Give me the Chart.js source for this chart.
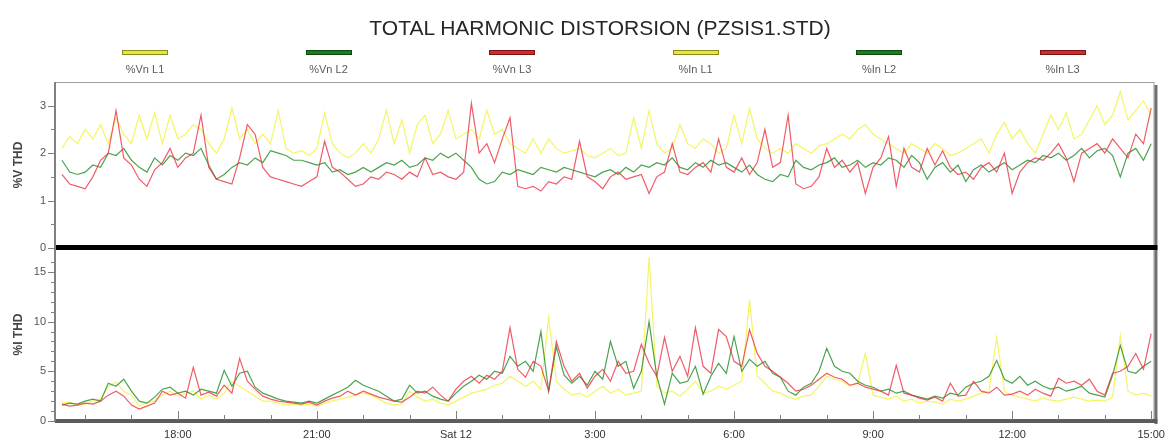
<!DOCTYPE html>
<html><head><meta charset="utf-8">
<script src="https://cdn.jsdelivr.net/npm/chart.js@4.4.1/dist/chart.umd.min.js"></script>
<style>
html,body{margin:0;padding:0;background:#fff;}
#wrap{position:relative;width:1172px;height:444px;overflow:hidden;font-family:"Liberation Sans",Arial,sans-serif;}
#title{position:absolute;left:0;width:1200px;top:16px;text-align:center;font-size:21px;color:#262626;}
.lg{position:absolute;top:50px;width:120px;margin-left:-60px;text-align:center;font-size:11px;color:#5a5a5a;}
.lg i{display:block;margin:0 auto 8px;width:44px;height:3px;border:1px solid;}
canvas{position:absolute;left:0;top:0;}
</style></head>
<body><div id="wrap"><canvas id="c" width="1172" height="444"></canvas><div id="title">TOTAL HARMONIC DISTORSION (PZSIS1.STD)</div></div>
<script>
// ---- data ----
const seriesNames = ['%Vn L1','%Vn L2','%Vn L3','%In L1','%In L2','%In L3'];
const startHour = -8.5;      // 15:30 on the previous day (hours relative to Sat 12 00:00)
const stepHours = 1/6;       // 10-minute samples
const xTickHours = [-6,-3,0,3,6,9,12,15];
const xTickLabels = ['18:00','21:00','Sat 12','3:00','6:00','9:00','12:00','15:00'];

const vnL1 = [2.1,2.35,2.2,
 2.5,2.3,2.6,2.2,2.75,2.4, 2.2,2.8,2.3,2.85,2.2,2.8, 2.3,2.4,2.6,2.5,2.2,2.0, 2.3,2.95,2.3,2.5,2.2,2.4,
 2.2,2.9,2.1,2.0,2.05,1.95, 2.1,2.85,2.2,2.0,1.9,2.0, 2.2,2.0,2.3,2.9,2.2,2.7, 2.0,2.6,2.8,2.2,2.4,2.9,
 2.3,2.4,2.5,2.3,2.9,2.4, 2.5,2.2,2.1,2.0,2.3,2.0, 2.3,2.1,2.0,2.05,2.1,1.95, 1.9,2.0,2.1,1.95,2.0,2.75,
 2.1,2.9,2.2,2.0,2.1,2.6, 2.2,2.1,2.3,2.2,2.0,2.1, 2.8,2.2,2.95,2.3,2.1,2.0, 2.1,2.0,2.2,2.1,2.0,2.15,
 2.2,2.3,2.4,2.3,2.5,2.6, 2.4,2.3,2.2,2.1,2.0,2.2, 2.1,2.0,2.2,2.1,1.95,2.0, 2.1,2.2,2.3,2.0,2.4,2.65,
 2.3,2.5,2.2,2.0,2.4,2.8, 2.5,2.85,2.3,2.4,2.7,3.0, 2.6,2.8,3.3,2.7,2.9,3.1, 2.8];
const vnL2 = [1.85,1.6,1.55,
 1.6,1.75,1.7,2.0,1.95,2.1, 1.85,1.7,1.6,1.9,1.75,1.95, 1.85,2.0,1.95,2.1,1.75,1.45, 1.55,1.7,1.8,1.75,1.9,1.8,
 2.05,2.0,1.95,1.85,1.85,1.8, 1.75,1.8,1.6,1.65,1.55,1.6, 1.7,1.6,1.7,1.8,1.75,1.85, 1.7,1.75,1.9,1.85,2.0,1.9,
 2.0,1.85,1.7,1.45,1.35,1.4, 1.6,1.55,1.65,1.6,1.55,1.7, 1.65,1.6,1.7,1.65,1.6,1.55, 1.5,1.6,1.65,1.55,1.7,1.6,
 1.75,1.7,1.8,1.75,1.9,1.7, 1.65,1.8,1.7,1.85,1.75,1.8, 1.7,1.6,1.75,1.55,1.45,1.4, 1.55,1.5,1.85,1.7,1.65,1.75,
 1.8,1.9,1.7,1.75,1.85,1.7, 1.8,1.75,1.9,1.85,1.7,1.95, 1.8,1.45,1.7,1.8,1.6,1.75, 1.4,1.65,1.75,1.6,1.7,1.8,
 1.65,1.75,1.85,1.8,1.95,1.9, 2.0,1.85,1.95,2.1,1.9,2.05, 2.1,1.95,1.5,2.0,2.1,1.85, 2.2];
const vnL3 = [1.55,1.35,1.3,
 1.25,1.5,1.85,2.0,2.9,1.9, 1.75,1.45,1.3,1.65,1.8,2.1, 1.7,1.9,2.0,2.8,1.7,1.45, 1.4,1.35,1.9,2.6,2.4,1.7,
 1.5,1.45,1.4,1.35,1.3,1.4, 1.5,2.25,1.7,1.6,1.45,1.3, 1.35,1.5,1.45,1.6,1.55,1.45, 1.6,1.5,1.9,1.55,1.6,1.5,
 1.45,1.6,3.05,2.0,2.2,1.8, 2.3,2.75,1.3,1.25,1.3,1.2, 1.4,1.35,1.5,1.45,2.25,1.5, 1.4,1.25,1.5,1.6,1.45,1.5,
 1.55,1.15,1.5,1.6,2.2,1.6, 1.55,1.7,1.8,1.6,2.3,1.7, 1.6,1.9,1.55,1.8,2.5,1.7, 1.8,2.8,1.35,1.25,1.3,1.5,
 2.1,1.7,1.85,1.6,1.8,1.15, 1.7,1.9,2.35,1.3,2.1,1.7, 1.6,2.1,1.75,2.05,1.7,1.55, 1.6,1.45,1.7,1.8,1.6,2.0,
 1.15,1.6,1.8,1.9,1.85,2.0, 2.2,1.9,1.4,2.0,2.1,2.2, 2.0,2.3,2.1,1.9,2.4,2.2, 2.95];

const inL1 = [1.8,1.9,1.6,
 1.7,2.0,2.2,3.5,3.9,3.0, 2.6,1.5,1.8,2.0,2.6,3.0, 2.5,2.8,3.0,2.2,2.6,2.2, 2.8,4.0,3.5,3.0,2.5,2.0,
 2.0,1.8,1.6,1.7,1.6,1.7, 1.5,1.8,2.0,2.2,2.4,2.6, 2.8,2.6,2.2,1.8,1.6,1.7, 3.0,2.4,2.0,2.2,1.8,1.6,
 2.0,2.4,2.8,3.0,3.2,3.6, 3.8,4.5,4.0,3.5,4.0,3.2, 10.4,4.0,3.2,2.6,2.8,2.4, 3.0,3.5,2.8,3.2,2.6,2.8,
 3.0,16.5,3.5,2.8,3.0,2.5, 3.2,4.0,2.8,3.0,3.5,3.2, 3.6,4.0,12.2,4.5,3.8,3.0, 2.8,2.4,2.2,2.5,2.6,3.5,
 4.5,4.2,4.0,3.5,3.8,6.8, 2.6,2.4,2.2,2.5,2.0,2.2, 1.8,2.0,1.9,1.7,2.2,2.0, 2.2,2.5,2.8,3.0,8.4,3.0,
 2.6,2.4,2.2,2.0,2.3,2.1, 2.0,2.2,2.4,2.2,2.0,2.1, 2.0,2.4,8.6,3.0,2.6,2.8, 2.5];
const inL2 = [1.6,1.8,1.7,
 2.0,2.2,2.0,3.8,3.5,4.2, 3.0,2.0,1.8,2.4,3.2,3.4, 2.8,3.0,2.6,3.2,3.0,2.8, 5.1,3.5,4.8,5.0,3.4,2.8,
 2.5,2.2,2.0,1.9,1.8,2.0, 1.8,2.2,2.6,3.0,3.4,4.1, 3.6,3.3,3.0,2.5,2.0,2.2, 3.6,2.8,3.0,2.5,2.2,2.0,
 2.8,3.5,4.0,4.6,4.2,5.0, 4.8,6.5,5.5,6.0,5.0,9.0, 3.0,7.5,4.6,3.8,4.5,3.6, 5.0,4.2,8.0,5.5,6.0,3.3,
 5.0,10.0,4.5,1.7,4.8,3.8, 4.0,5.5,2.7,4.5,5.8,4.8, 8.5,5.0,6.2,5.5,6.0,4.8, 4.4,3.0,2.6,3.4,3.8,5.0,
 7.3,5.5,5.0,4.8,4.0,3.6, 3.4,3.0,3.2,2.8,3.0,2.6, 2.4,2.2,2.5,2.3,2.8,2.6, 3.4,3.8,4.0,4.5,6.1,4.2,
 3.8,4.5,3.6,4.0,3.5,3.2, 3.4,3.0,3.2,3.5,2.8,2.6, 2.4,4.6,7.6,5.0,4.8,5.5, 6.0];
const inL3 = [1.7,1.5,1.6,
 1.8,1.7,2.0,2.6,3.0,2.5, 1.6,1.2,1.5,1.8,3.0,2.6, 2.8,2.3,5.4,2.6,2.9,2.5, 3.6,2.8,6.3,4.0,3.2,2.5,
 2.2,2.0,1.9,1.8,1.7,1.9, 1.6,2.0,2.3,2.5,3.0,2.6, 3.0,2.7,2.4,2.2,2.0,1.9, 2.4,3.0,2.8,3.4,2.6,2.0,
 3.2,4.0,4.5,3.8,4.6,4.2, 5.0,9.4,5.2,4.4,6.0,5.5, 3.0,8.0,5.5,4.0,4.8,3.3, 4.5,5.2,4.0,6.0,4.8,5.0,
 7.7,5.8,4.5,8.4,5.0,6.5, 4.5,9.4,5.5,4.8,9.2,8.5, 6.0,5.5,9.2,6.8,5.5,5.0, 4.4,3.8,3.0,3.2,3.6,4.2,
 4.8,4.4,4.2,3.6,3.8,3.4, 3.2,3.0,2.6,5.6,2.8,2.6, 2.3,2.1,2.4,2.0,3.8,2.5, 2.6,4.0,3.0,2.8,3.4,2.6,
 2.7,3.0,2.6,3.2,2.8,2.5, 4.3,3.8,4.0,3.6,4.2,3.0, 2.6,4.8,5.0,5.5,6.8,5.2, 8.8];

// ---- build ----
const toXY = arr => arr.map((v,i)=>({x:startHour+i*stepHours, y:v}));
const colYellow='rgba(242,242,60,0.8)', colGreen='rgba(30,140,35,0.8)', colRed='rgba(236,45,60,0.78)';
const legendFill=['#e6e63a','#1f7a1f','#d22a32','#e6e63a','#1f7a1f','#d22a32'];
const legendBorder=['#8c8c1e','#0e4a0e','#7a1414','#8c8c1e','#0e4a0e','#7a1414'];
const lineCols=[colYellow,colGreen,colRed,colYellow,colGreen,colRed];
const seriesData=[vnL1,vnL2,vnL3,inL1,inL2,inL3];
const orders=[3,2,1,3,2,1];

const wrap=document.getElementById('wrap');
seriesNames.forEach((n,i)=>{
  const d=document.createElement('div'); d.className='lg';
  d.style.left=(145+183.5*i)+'px';
  d.innerHTML='<i style="background:'+legendFill[i]+';border-color:'+legendBorder[i]+'"></i>'+n;
  wrap.appendChild(d);
});

const datasets=seriesData.map((arr,i)=>({
  label:seriesNames[i], data:toXY(arr), yAxisID: i<3?'yV':'yI',
  borderColor:lineCols[i], borderWidth:1.2, pointRadius:0, tension:0, order:orders[i], fill:false
}));

const framePlugin={
  id:'frame',
  afterDraw(c){
    const ctx=c.ctx, a=c.chartArea, yV=c.scales.yV, yI=c.scales.yI, x=c.scales.x;
    const sepY = yV.bottom;
    ctx.save();
    ctx.strokeStyle='#a0a0a0'; ctx.lineWidth=1;
    ctx.strokeRect(a.left+0.5,a.top+0.5,a.right-a.left-1,a.bottom-a.top-1);
    ctx.fillStyle='#707070';
    ctx.fillRect(a.right,a.top+3,3,a.bottom-a.top);
    ctx.fillStyle='#000';
    ctx.fillRect(a.left,sepY-3,a.right-a.left+3,5);
    ctx.fillStyle='#5c5c5c';
    ctx.fillRect(a.left,a.bottom-2,a.right-a.left+3,4);
    ctx.fillStyle='#808080';
    ctx.fillRect(a.left-1,a.top,2,a.bottom-a.top);
    ctx.strokeStyle='#808080';
    for(const s of [yV,yI]){
      for(const t of s.ticks){
        const py=Math.round(s.getPixelForValue(t.value))+0.5;
        const len=(t.label!=='')?7:4;
        ctx.beginPath(); ctx.moveTo(a.left-len,py); ctx.lineTo(a.left,py); ctx.stroke();
      }
    }
    for(const t of x.ticks){
      const px=Math.round(x.getPixelForValue(t.value))+0.5;
      const len=(t.label!=='')?9:5;
      ctx.beginPath(); ctx.moveTo(px,a.bottom-1); ctx.lineTo(px,a.bottom-1-len); ctx.stroke();
    }
    ctx.restore();
  }
};

const yCommon = {
  type:'linear', position:'left', stack:'panels', offset:false,
  grid:{display:false, drawTicks:false}, border:{display:false},
  afterFit(s){ s.width=55; }
};

new Chart(document.getElementById('c'),{
  type:'line',
  data:{datasets},
  options:{
    responsive:false, animation:false, devicePixelRatio:1,
    layout:{padding:{top:82,right:14,left:0,bottom:0}},
    plugins:{legend:{display:false},tooltip:{enabled:false},title:{display:false}},
    scales:{
      x:{type:'linear',min:-8.65,max:15.07,
        afterBuildTicks(s){ const t=[]; for(let h=-8;h<=15;h++) t.push({value:h}); s.ticks=t; },
        ticks:{autoSkip:false,maxRotation:0,padding:7,color:'#333',font:{family:'Liberation Sans',size:11},
          callback(v){ const i=xTickHours.indexOf(v); return i>=0?xTickLabels[i]:''; }},
        grid:{display:false, drawTicks:false}, border:{display:false},
        afterFit(s){ s.height=23; }
      },
      yI:Object.assign({},yCommon,{stackWeight:173,min:0,max:17.4,
        afterBuildTicks(s){ const t=[]; for(let v=0;v<=16;v++) t.push({value:v}); s.ticks=t; },
        ticks:{autoSkip:false,padding:9,color:'#555',font:{family:'Liberation Sans',size:11},callback(v){return v%5===0?String(v):'';}},
        title:{display:true,text:'%I THD',color:'#444',font:{family:'Liberation Sans',size:12,weight:'bold'},padding:{top:11,bottom:0}}
      }),
      yV:Object.assign({},yCommon,{stackWeight:166,min:0,max:3.5,
        afterBuildTicks(s){ s.ticks=[0,0.5,1,1.5,2,2.5,3].map(v=>({value:v})); },
        ticks:{autoSkip:false,padding:9,color:'#555',font:{family:'Liberation Sans',size:11},callback(v){return Number.isInteger(v)?String(v):'';}},
        title:{display:true,text:'%V THD',color:'#444',font:{family:'Liberation Sans',size:12,weight:'bold'},padding:{top:11,bottom:0}}
      })
    }
  },
  plugins:[framePlugin]
});
</script></body></html>
